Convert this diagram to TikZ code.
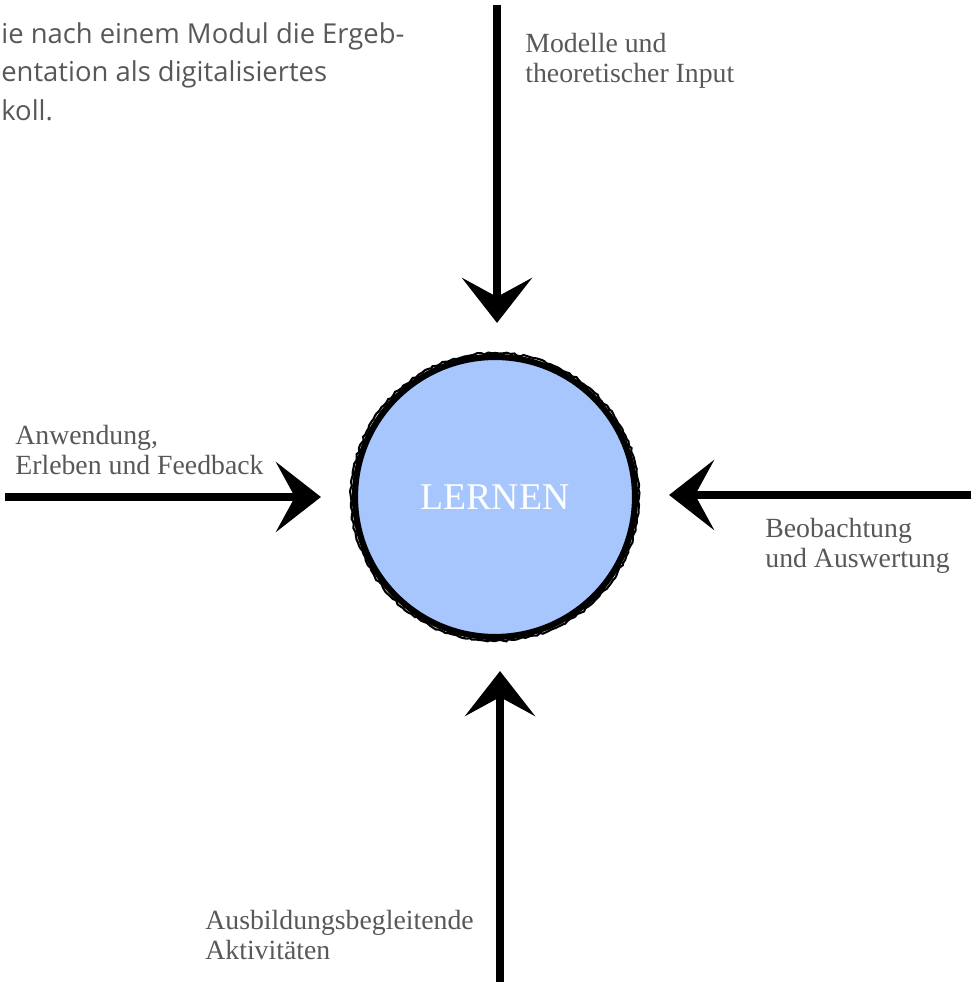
\documentclass[tikz,border=0pt]{standalone}
\usepackage{fontspec}
\setmainfont{Liberation Serif}
\newfontfamily\absatzfont{Open Sans}
\usetikzlibrary{arrows.meta,decorations.pathmorphing}
\definecolor{lernblau}{RGB}{166,198,253}
\definecolor{schrift}{RGB}{88,88,88}

\begin{document}
\begin{tikzpicture}[
    pfeil/.style={line width=4.5pt, -{Stealth[length=0.9cm,width=1.4cm,inset=0.38cm]}, shorten >=0.62cm},
    beschr/.style={text=schrift, font=\fontsize{15.8}{17}\selectfont, align=left, anchor=north west, inner sep=0pt},
    rau/.style={decorate, decoration={random steps, segment length=2pt, amplitude=0.6pt}}]
	\useasboundingbox (0,0) rectangle (19.42,19.70);
	\node[text=schrift, font=\absatzfont\fontsize{15.6}{21.8}\selectfont, align=left, anchor=north west, inner sep=0pt] (absatz) at (0.02,19.25) {ie nach einem Modul die Ergeb-\\entation als digitalisiertes\\koll.};
	\node[circle, minimum size=5.6cm, fill=lernblau, draw=black, line width=3.5pt, text=white, font=\fontsize{21.5}{24}\selectfont] (lernen) at (9.9,9.76) {LERNEN};
	\draw[rau, line width=1.2pt] (lernen.center) circle (2.88cm);
	\coordinate (oben) at (9.94,19.6);
	\coordinate (links) at (0.1,9.76);
	\coordinate (rechts) at (19.42,9.8);
	\coordinate (unten) at (10.0,0.06);
	\node[beschr] (modelle) at (10.5,19.04) {Modelle und\\theoretischer Input};
	\node[beschr] (anwendung) at (0.3,11.2) {Anwendung,\\Erleben und Feedback};
	\node[beschr] (beobachtung) at (15.3,9.34) {Beobachtung\\und Auswertung};
	\node[beschr] (ausbildung) at (4.1,1.5) {Ausbildungsbegleitende\\Aktivit\"aten};
    \draw[pfeil] (oben) -- (oben |- lernen.north);
    \draw[pfeil] (links) -- (lernen.west);
    \draw[pfeil] (rechts) -- (rechts -| lernen.east);
    \draw[pfeil] (unten) -- (unten |- lernen.south);
\end{tikzpicture}
\end{document}
